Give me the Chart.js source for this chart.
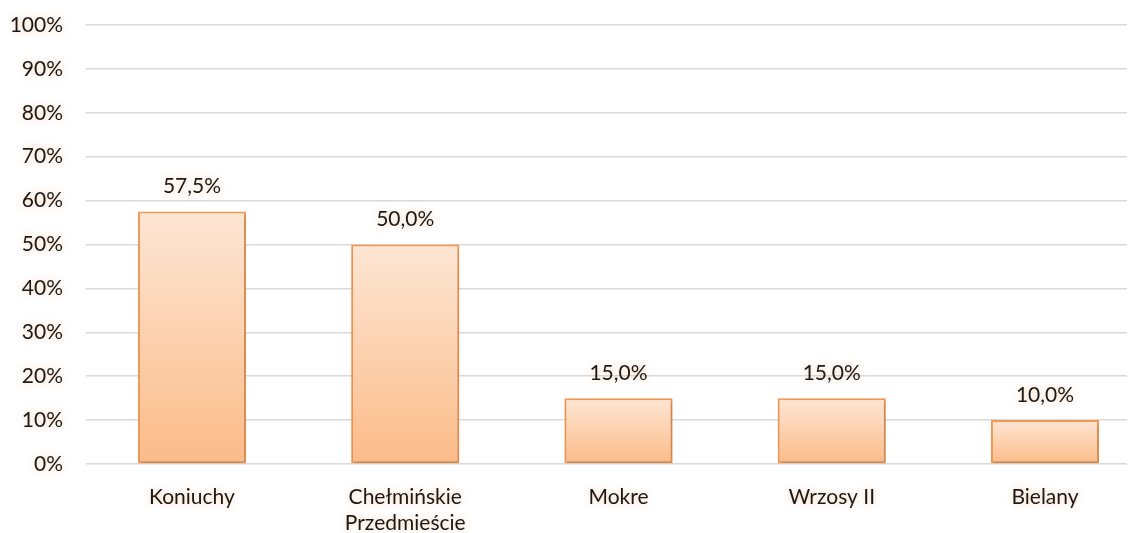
<!DOCTYPE html>
<html>
<head>
<meta charset="utf-8">
<script src="https://cdn.jsdelivr.net/npm/chart.js@4"></script>
<style>
html,body{margin:0;padding:0;background:#fff;}
#wrap{width:1139px;height:533px;}
</style>
</head>
<body>
<div id="wrap"><canvas id="c" width="1139" height="533"></canvas></div>
<script>
const categories = ["Koniuchy", ["Chełmińskie", "Przedmieście"], "Mokre", "Wrzosy II", "Bielany"];
const values = [57.5, 50.0, 15.0, 15.0, 10.0];
const valueLabels = ["57,5%", "50,0%", "15,0%", "15,0%", "10,0%"];
const yTicks = [0, 10, 20, 30, 40, 50, 60, 70, 80, 90, 100];

const FONT = "Lato, 'Open Sans', sans-serif";
const GLOW = "rgba(248,160,90,0.5)";

const glowPlugin = {
  id: 'glow',
  beforeDraw(chart) {
    Object.values(chart.scales).forEach(s => {
      if (s._glowWrapped) return;
      const orig = s.drawLabels;
      s.drawLabels = function () {
        const ctx = this.ctx;
        ctx.save();
        ctx.shadowColor = GLOW;
        ctx.shadowBlur = 6;
        orig.apply(this, arguments);
        ctx.restore();
      };
      s._glowWrapped = true;
    });
  },
  beforeDatasetDraw(chart) {
    const ctx = chart.ctx;
    ctx.save();
    ctx.shadowColor = "rgba(0,0,0,0.22)";
    ctx.shadowBlur = 4;
    ctx.shadowOffsetX = 1;
    ctx.shadowOffsetY = 2;
  },
  afterDatasetDraw(chart) {
    chart.ctx.restore();
  },
  afterDatasetsDraw(chart) {
    const ctx = chart.ctx;
    const meta = chart.getDatasetMeta(0);
    ctx.save();
    ctx.font = "21px " + FONT;
    ctx.fillStyle = "#1a1a1a";
    ctx.textAlign = "center";
    ctx.textBaseline = "middle";
    ctx.shadowColor = GLOW;
    ctx.shadowBlur = 6;
    meta.data.forEach((bar, i) => {
      ctx.fillText(valueLabels[i], bar.x, bar.y - 25);
    });
    ctx.restore();
  }
};

new Chart(document.getElementById('c'), {
  type: 'bar',
  data: {
    labels: categories,
    datasets: [{
      data: values,
      backgroundColor(ctx) {
        const chart = ctx.chart;
        if (!chart.chartArea || ctx.parsed === undefined) return '#FCD2B0';
        const y = chart.scales.y;
        const top = y.getPixelForValue(ctx.parsed.y);
        const bottom = y.getPixelForValue(0);
        if (!isFinite(top) || !isFinite(bottom) || top === bottom) return '#FCD2B0';
        const g = chart.ctx.createLinearGradient(0, top, 0, bottom);
        g.addColorStop(0, '#FDE6D4');
        g.addColorStop(1, '#FBBB88');
        return g;
      },
      borderColor: '#F79A52',
      borderWidth: 2,
      borderSkipped: false,
      categoryPercentage: 1,
      barPercentage: 0.507
    }]
  },
  options: {
    responsive: false,
    animation: false,
    devicePixelRatio: 1,
    layout: { padding: { top: 25, right: 12, left: 0, bottom: 0 } },
    plugins: { legend: { display: false }, tooltip: { enabled: false } },
    scales: {
      x: {
        grid: { display: false, drawTicks: false },
        border: { display: false },
        ticks: { color: '#1a1a1a', font: { family: FONT, size: 21 }, padding: 21, maxRotation: 0, autoSkip: false },
        afterFit(s) { s.height = 69; s.paddingLeft = 0; s.paddingRight = 0; },
        afterUpdate(s) {
          // category slots are wider than the gridded plot area in the original
          s._startValue = -0.497;
          s._valueRange = 4.8816;
        }
      },
      y: {
        min: 0, max: 100,
        afterBuildTicks(s) { s.ticks = yTicks.map(v => ({ value: v })); },
        grid: { color: '#D9D9D9', lineWidth: 1.5, drawTicks: false },
        border: { display: false },
        ticks: { color: '#1a1a1a', font: { family: FONT, size: 21 }, padding: 23, callback: v => v + '%' },
        afterFit(s) { s.width = 86; s.paddingTop = 0; s.paddingBottom = 0; }
      }
    }
  },
  plugins: [glowPlugin]
});
</script>
</body>
</html>
